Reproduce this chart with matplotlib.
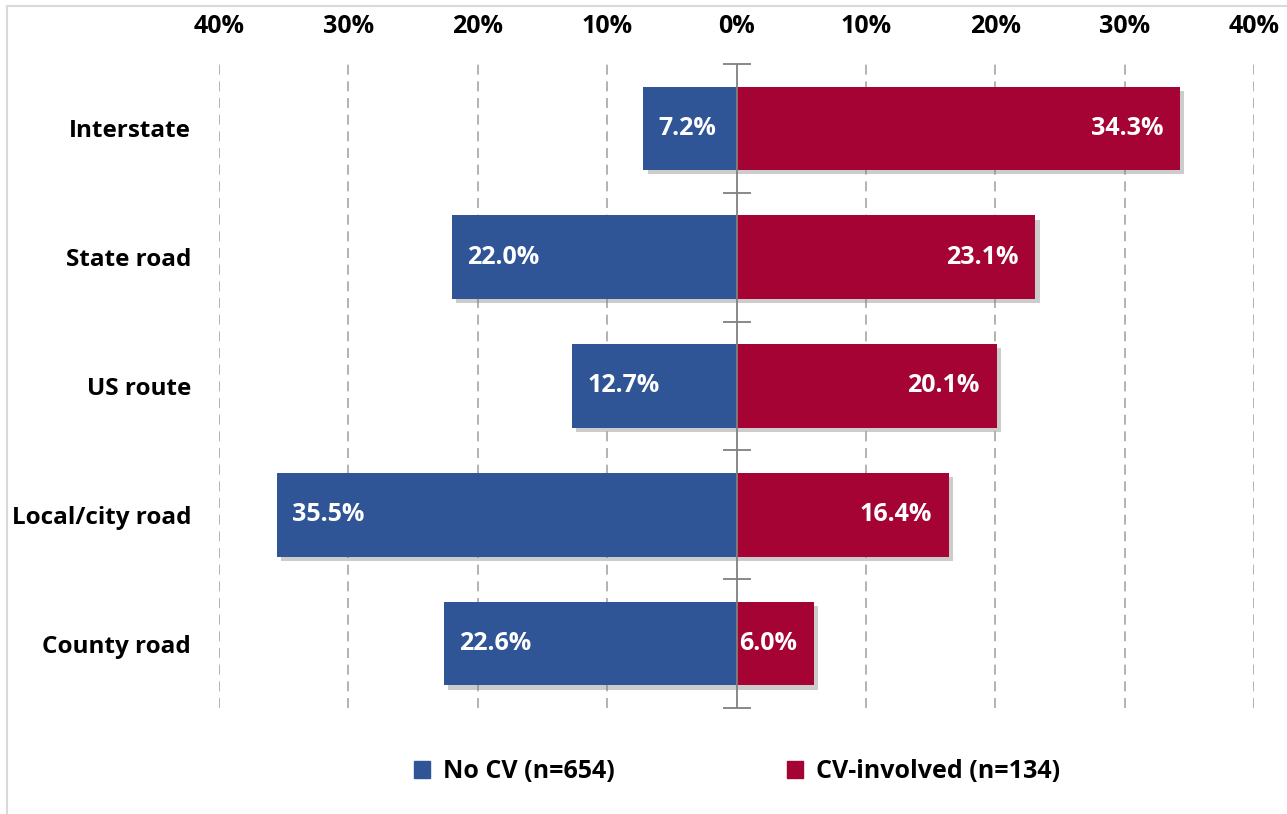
import matplotlib.pyplot as plt
import numpy as np
from matplotlib import patheffects as pe
from matplotlib.patches import Rectangle, Patch

plt.rcParams['font.family'] = ['Open Sans', 'DejaVu Sans']
plt.rcParams['font.weight'] = 'bold'

categories = ['Interstate', 'State road', 'US route', 'Local/city road', 'County road']
no_cv = [7.2, 22.0, 12.7, 35.5, 22.6]
cv_involved = [34.3, 23.1, 20.1, 16.4, 6.0]
series_names = ['No CV (n=654)', 'CV-involved (n=134)']
xticks = [-40, -30, -20, -10, 0, 10, 20, 30, 40]

blue = '#2F5597'
red = '#A50334'
fs = 18

fig = plt.figure(figsize=(12.87, 8.14), dpi=100)
ax = fig.add_axes([219/1287, 1 - 708/814, (1254-219)/1287, (708-64)/814])

y = np.arange(len(categories))
shadow = [pe.SimplePatchShadow(offset=(3, -3), shadow_rgbFace='gray', alpha=0.4), pe.Normal()]

left_bars = ax.barh(y, -np.array(no_cv), height=0.65, color=blue, zorder=3)
right_bars = ax.barh(y, cv_involved, height=0.65, color=red, zorder=3)
for b in list(left_bars) + list(right_bars):
    b.set_path_effects(shadow)

for i, v in enumerate(no_cv):
    ax.annotate(f'{v:.1f}%', (-v, i), xytext=(11, 0), textcoords='offset points',
                ha='left', va='center', color='white', fontsize=fs, fontweight='bold', zorder=5)
for i, v in enumerate(cv_involved):
    ax.annotate(f'{v:.1f}%', (v, i), xytext=(-12, 0), textcoords='offset points',
                ha='right', va='center', color='white', fontsize=fs, fontweight='bold', zorder=5)

# grid lines (dashed), skip centre
for t in xticks:
    if t != 0:
        ax.axvline(t, color='#a6a6a6', lw=1.2, ls=(0, (6, 4)), zorder=1)

# centre axis with tick marks on category boundaries
ax.axvline(0, color='#808080', lw=1.3, zorder=4)
bounds = np.arange(len(categories) + 1) - 0.5
ax.plot(np.zeros_like(bounds), bounds, ls='none', marker='_', markersize=20,
        markeredgewidth=1.3, color='#808080', zorder=4, clip_on=False)

ax.set_xlim(-40, 40)
ax.set_ylim(len(categories) - 0.5, -0.5)
ax.set_xticks(xticks)
ax.set_xticklabels([f'{abs(t)}%' for t in xticks])
ax.xaxis.tick_top()
ax.set_yticks(y)
ax.set_yticklabels(categories)
ax.tick_params(axis='x', length=0, pad=18, labelsize=fs)
ax.tick_params(axis='y', length=0, pad=20, labelsize=17.5)
for s in ax.spines.values():
    s.set_visible(False)

handles = [Patch(color=blue), Patch(color=red)]
fig.legend(handles, series_names, loc='center', bbox_to_anchor=(0.5727, 0.0516), ncol=2,
           frameon=False, fontsize=fs, handlelength=0.65, handleheight=0.65,
           handletextpad=0.5, columnspacing=6.9)

fig.add_artist(Rectangle((7/1287, -0.1), 1.2, 1.1 - 6/814, transform=fig.transFigure,
                         fill=False, edgecolor='#d9d9d9', lw=1.5))

plt.savefig('out.png', dpi=100)
